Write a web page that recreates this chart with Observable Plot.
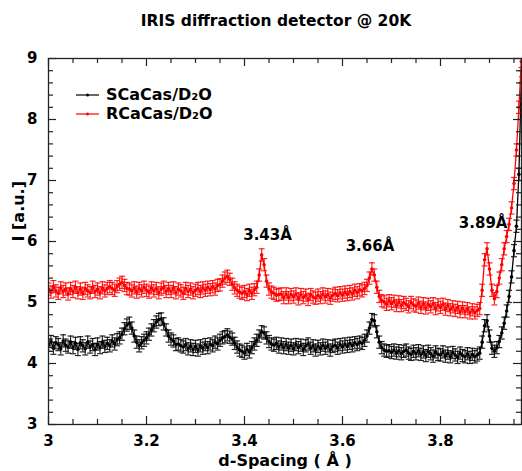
<!DOCTYPE html>
<html><head><meta charset="utf-8">
<script src="https://cdn.jsdelivr.net/npm/d3@7"></script>
<script src="https://cdn.jsdelivr.net/npm/@observablehq/plot@0.6"></script>
<style>
body{margin:0;background:#fff;}
#wrap{position:relative;width:522px;height:471px;overflow:hidden;}
#title{position:absolute;left:15px;top:12px;width:522px;text-align:center;font:bold 15.5px "DejaVu Sans";color:#000;}
#chart{position:absolute;left:0;top:40px;}
#legend{position:absolute;left:76px;top:85px;font:bold 16px "DejaVu Sans";color:#000;}
#legend .row{display:flex;align-items:center;height:19px;}
#legend svg{margin-right:6px;}
</style></head>
<body>
<div id="wrap">
  <div id="title">IRIS diffraction detector @ 20K</div>
  <div id="chart"></div>
  <div id="legend"></div>
</div>
<script>
// d-spacing grid: first value and step (Å)
const D0 = 3.0, STEP = 0.005;
// SCaCas/D2O intensities (black)
const sCaCas = [
 4.30,4.36,4.25,4.34,4.31,4.24,4.37,4.30,4.27,4.35,
 4.26,4.33,4.23,4.34,4.29,4.24,4.35,4.27,4.31,4.23,
 4.32,4.26,4.35,4.28,4.33,4.29,4.37,4.32,4.39,4.42,
 4.48,4.57,4.63,4.66,4.58,4.45,4.35,4.29,4.34,4.38,
 4.42,4.48,4.55,4.62,4.68,4.72,4.73,4.65,4.55,4.45,
 4.40,4.37,4.31,4.32,4.29,4.27,4.31,4.24,4.29,4.23,
 4.28,4.22,4.29,4.25,4.31,4.26,4.32,4.29,4.35,4.32,
 4.38,4.42,4.44,4.47,4.43,4.40,4.33,4.27,4.22,4.20,
 4.17,4.23,4.19,4.26,4.32,4.38,4.45,4.52,4.50,4.42,
 4.36,4.32,4.30,4.33,4.27,4.32,4.26,4.31,4.25,4.30,
 4.24,4.31,4.26,4.30,4.23,4.29,4.32,4.25,4.29,4.22,
 4.28,4.24,4.30,4.25,4.29,4.22,4.28,4.30,4.25,4.31,
 4.27,4.32,4.28,4.33,4.29,4.34,4.31,4.35,4.33,4.38,
 4.45,4.58,4.72,4.70,4.52,4.35,4.26,4.22,4.20,4.21,
 4.18,4.22,4.17,4.21,4.16,4.20,4.22,4.17,4.15,4.20,
 4.16,4.21,4.15,4.19,4.13,4.20,4.16,4.12,4.19,4.15,
 4.14,4.19,4.12,4.17,4.11,4.18,4.14,4.10,4.17,4.13,
 4.11,4.16,4.10,4.15,4.11,4.14,4.17,4.35,4.62,4.70,
 4.45,4.25,4.20,4.26,4.36,4.50,4.66,4.86,5.10,5.42,
 5.85,6.25,7.10,8.70
];
// RCaCas/D2O intensities (red)
const rCaCas = [
 5.22,5.17,5.26,5.19,5.15,5.24,5.18,5.22,5.14,5.23,
 5.18,5.25,5.16,5.22,5.15,5.23,5.19,5.16,5.25,5.18,
 5.22,5.16,5.24,5.19,5.23,5.26,5.23,5.20,5.26,5.30,
 5.33,5.28,5.23,5.22,5.19,5.24,5.17,5.23,5.19,5.25,
 5.20,5.17,5.24,5.19,5.23,5.16,5.22,5.25,5.18,5.23,
 5.18,5.24,5.16,5.22,5.19,5.15,5.23,5.18,5.22,5.16,
 5.20,5.23,5.18,5.24,5.20,5.25,5.21,5.26,5.22,5.28,
 5.29,5.35,5.40,5.43,5.38,5.30,5.24,5.20,5.17,5.15,
 5.18,5.13,5.20,5.15,5.21,5.25,5.45,5.78,5.62,5.35,
 5.22,5.17,5.15,5.12,5.13,5.14,5.08,5.14,5.08,5.13,
 5.09,5.14,5.06,5.13,5.08,5.12,5.05,5.13,5.09,5.07,
 5.12,5.08,5.14,5.09,5.13,5.07,5.12,5.15,5.11,5.16,
 5.12,5.17,5.13,5.18,5.14,5.20,5.16,5.21,5.19,5.23,
 5.28,5.40,5.55,5.45,5.25,5.10,5.03,5.01,4.97,5.03,
 4.98,5.02,4.95,5.01,4.95,5.00,4.97,4.93,5.00,4.96,
 4.94,4.99,4.92,4.98,4.91,4.97,4.93,4.98,4.90,4.96,
 4.92,4.97,4.89,4.95,4.88,4.93,4.87,4.92,4.85,4.91,
 4.85,4.90,4.83,4.88,4.83,4.87,4.90,5.20,5.70,5.88,
 5.55,5.20,5.06,5.18,5.40,5.62,5.88,6.08,6.28,6.55,
 6.95,7.50,8.20,8.95
];
const ERR = 0.1;                // error bar half-height
const seriesNames = ["SCaCas/D₂O", "RCaCas/D₂O"];
const seriesColors = ["#000000", "#ff0000"];
const xMajor = [3.0, 3.2, 3.4, 3.6, 3.8];
const xTickLabels = ["3", "3.2", "3.4", "3.6", "3.8"];
const xMinor = [3.05,3.10,3.15,3.25,3.30,3.35,3.45,3.50,3.55,3.65,3.70,3.75,3.85,3.90,3.95];
const yMajor = [3, 4, 5, 6, 7, 8, 9];
const yTickLabels = ["3", "4", "5", "6", "7", "8", "9"];
const yMinor = [3.2,3.4,3.6,3.8,4.2,4.4,4.6,4.8,5.2,5.4,5.6,5.8,6.2,6.4,6.6,6.8,7.2,7.4,7.6,7.8,8.2,8.4,8.6,8.8];
const peakLabels = ["3.43Å", "3.66Å", "3.89Å"];
const peakX = [3.447, 3.656, 3.887];
const peakY = [6.03, 5.85, 6.22];

const W = 522, H = 431, mL = 48, mR = 1, mT = 18, mB = 47;
const fw = W - mL - mR, fh = H - mT - mB;

const series = [sCaCas, rCaCas].map((vals, k) =>
  vals.map((v, i) => ({d: D0 + i * STEP, v, k})));

const cap = {draw(ctx, size) { const w = Math.sqrt(size / Math.PI); ctx.moveTo(-w, 0); ctx.lineTo(w, 0); }};

const marks = [];
series.forEach((data, k) => {
  const c = seriesColors[k];
  marks.push(
    Plot.ruleX(data, {x: "d", y1: d => d.v - ERR, y2: d => d.v + ERR, stroke: c, strokeWidth: 1.2, strokeOpacity: 0.85, clip: true}),
    Plot.dot(data, {x: "d", y: d => d.v - ERR, symbol: cap, r: 3, stroke: c, strokeWidth: 1.2, strokeOpacity: 0.85, fill: "none", clip: true}),
    Plot.dot(data, {x: "d", y: d => d.v + ERR, symbol: cap, r: 3, stroke: c, strokeWidth: 1.2, strokeOpacity: 0.85, fill: "none", clip: true}),
    Plot.line(data, {x: "d", y: "v", stroke: c, strokeWidth: 1.3, clip: true}),
    Plot.dot(data, {x: "d", y: "v", r: 1.8, fill: c, stroke: "none", clip: true})
  );
});

const chart = Plot.plot({
  width: W, height: H,
  marginLeft: mL, marginRight: mR, marginTop: mT, marginBottom: mB,
  style: {fontFamily: "DejaVu Sans", background: "#fff", overflow: "visible"},
  x: {domain: [3, 3 + fw / 490], label: null},
  y: {domain: [3, 9], label: null},
  marks: [
    ...marks,
    Plot.frame({stroke: "#222", strokeWidth: 1.3}),
    // inward ticks on all four sides
    Plot.tickX(xMajor, {x: d => d, insetTop: fh - 8, stroke: "#222", strokeWidth: 1.2}),
    Plot.tickX(xMajor, {x: d => d, insetBottom: fh - 8, stroke: "#222", strokeWidth: 1.2}),
    Plot.tickX(xMinor, {x: d => d, insetTop: fh - 5, stroke: "#222", strokeWidth: 1.2}),
    Plot.tickX(xMinor, {x: d => d, insetBottom: fh - 5, stroke: "#222", strokeWidth: 1.2}),
    Plot.tickY(yMajor, {y: d => d, insetRight: fw - 8, stroke: "#222", strokeWidth: 1.2}),
    Plot.tickY(yMajor, {y: d => d, insetLeft: fw - 8, stroke: "#222", strokeWidth: 1.2}),
    Plot.tickY(yMinor, {y: d => d, insetRight: fw - 5, stroke: "#222", strokeWidth: 1.2}),
    Plot.tickY(yMinor, {y: d => d, insetLeft: fw - 5, stroke: "#222", strokeWidth: 1.2}),
    Plot.axisX({ticks: xMajor, tickSize: 0, tickPadding: 11, tickFormat: (d, i) => xTickLabels[i], fontSize: 15, fontWeight: "bold", fill: "#000", label: null}),
    Plot.axisY({ticks: yMajor, tickSize: 0, tickPadding: 11, tickFormat: (d, i) => yTickLabels[i], fontSize: 15, fontWeight: "bold", fill: "#000", label: null}),
    Plot.text(["d-Spacing ( Å )"], {frameAnchor: "bottom", dy: 41, lineAnchor: "bottom", fontSize: 16, fontWeight: "bold", fill: "#000"}),
    Plot.text(["I [a.u.]"], {frameAnchor: "left", dx: -30, rotate: -90, fontSize: 16, fontWeight: "bold", fill: "#000"}),
    Plot.text(peakLabels, {x: (d, i) => peakX[i], y: (d, i) => peakY[i], text: d => d, lineAnchor: "bottom", fontSize: 15, fontWeight: "bold", fill: "#000"})
  ]
});
document.getElementById("chart").appendChild(chart);

// legend
const leg = document.getElementById("legend");
seriesNames.forEach((name, k) => {
  const row = document.createElement("div");
  row.className = "row";
  row.innerHTML = `<svg width="24" height="10"><line x1="0" y1="5" x2="23" y2="5" stroke="${seriesColors[k]}" stroke-width="1.2"/><circle cx="11.5" cy="5" r="1.5" fill="${seriesColors[k]}"/></svg><span>${name}</span>`;
  leg.appendChild(row);
});
</script>
</body></html>
